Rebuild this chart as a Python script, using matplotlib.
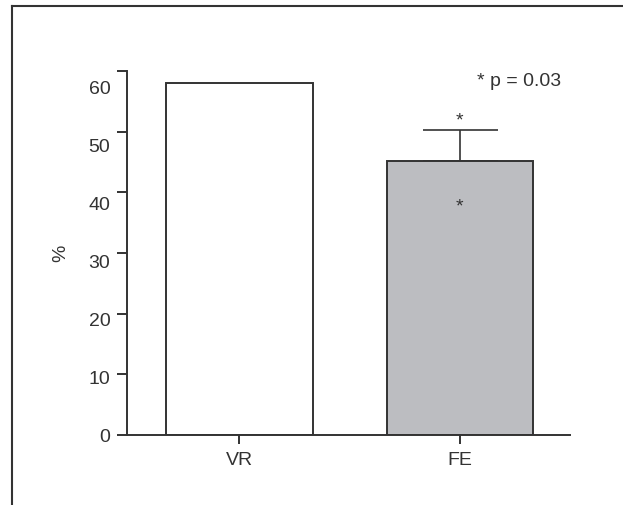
import matplotlib.pyplot as plt
from matplotlib.lines import Line2D
from matplotlib.transforms import ScaledTranslation

plt.rcParams['font.family'] = ['Liberation Sans Narrow', 'Liberation Sans', 'DejaVu Sans']

groups = ['VR', 'FE']
values = [58.1, 45.2]
errors = [0, 5.0]
fills = ['white', '#bcbdc1']
yticks = [0, 10, 20, 30, 40, 50, 60]
ink = '#333333'

fig = plt.figure(figsize=(6.23, 5.05), dpi=100)
ax = fig.add_axes([127/623, 70/505, 443/623, 364/505])

x = list(range(len(groups)))
ax.bar(x, values, width=0.665, color=fills, edgecolor=ink, linewidth=1.4, zorder=2)
ax.errorbar(x[1], values[1], yerr=[[0], [errors[1]]], fmt='none', ecolor=ink,
            elinewidth=1.2, capsize=27, capthick=1.2, zorder=1)

ax.set_xlim(-0.51, 1.50)
ax.set_ylim(0, 60)
ax.set_xticks(x)
ax.set_xticklabels(groups)
ax.set_yticks(yticks)
ax.set_yticklabels([str(t) for t in yticks])
ax.set_ylabel('%', fontsize=14, color=ink, labelpad=14)

for s in ['top', 'right']:
    ax.spines[s].set_visible(False)
for s in ['left', 'bottom']:
    ax.spines[s].set_color(ink)
    ax.spines[s].set_linewidth(1.4)
ax.tick_params(axis='both', colors=ink, labelsize=14, width=1.4)
ax.tick_params(axis='y', length=7, pad=5)
ax.tick_params(axis='x', length=6.5, pad=6)

# labels in the original sit a little lower than their ticks, more so higher up
for t, lab in zip(yticks, ax.get_yticklabels()):
    lab.set_transform(lab.get_transform() + ScaledTranslation(0, -(t / 60) * 17 / 100, fig.dpi_scale_trans))

# significance markers
ax.text(x[1], values[1] + errors[1] + 1.6, '*', ha='center', va='center', fontsize=14, color=ink)
ax.text(x[1], values[1] - 7.6, '*', ha='center', va='center', fontsize=14, color=ink)
ax.text(1.27, 58.2, '* p = 0.03', ha='center', va='center', fontsize=14, color=ink)

# frame around the figure (cropped on right and bottom)
fig.add_artist(Line2D([12/623, 12/623], [0, 1 - 6/505], color=ink, lw=1.5))
fig.add_artist(Line2D([12/623, 1], [1 - 6/505, 1 - 6/505], color=ink, lw=1.5))

fig.savefig('out.png', dpi=100)
